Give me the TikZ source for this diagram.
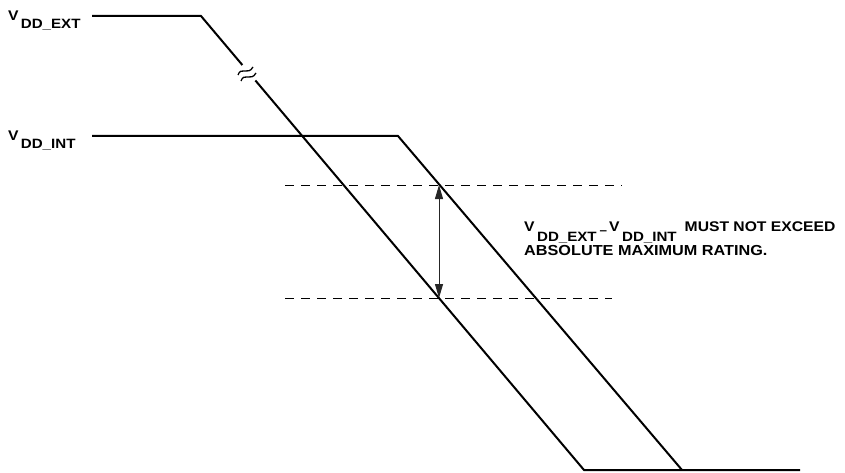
\documentclass[tikz,border=0pt]{standalone}
\usepackage{fontspec}
\setmainfont{Liberation Sans}[FakeStretch=1.12]
\usetikzlibrary{positioning, arrows.meta, calc}
\newcommand{\vdd}[2][8pt]{{\fontsize{14}{14}\selectfont V}\,\raisebox{-#1}{\fontsize{13.5}{14}\selectfont DD\_#2}}

\begin{document}
\begin{tikzpicture}[x=1pt, y=-1pt,
  rail/.style={line width=2pt, line join=miter},
  guide/.style={line width=0.9pt, dash pattern=on 9pt off 7pt},
  lbl/.style={font=\bfseries\fontsize{13.5}{15}\selectfont, inner sep=0pt, anchor=base west},
  note/.style={font=\bfseries\fontsize{14.5}{17}\selectfont, inner sep=0pt, anchor=base west},
  span/.style={{Triangle[length=14pt,width=8pt]}-{Triangle[length=14pt,width=8pt]}, line width=1pt, draw=black!85},
]
  \useasboundingbox (0,0) rectangle (845,473);

  % corner points of the two rails
  \coordinate (extL) at (92,16);
  \coordinate (extK) at (201,16);
  \coordinate (extB) at (584,470);
  \coordinate (intL) at (92,136);
  \coordinate (intK) at (398,136);
  \coordinate (intB) at (682,470);
  \coordinate (endR) at (800,470);

  % dashed guide lines
  \coordinate (topL) at (285,185);
  \coordinate (topR) at (622,185);
  \coordinate (botL) at (285,298);
  \coordinate (botR) at (612,298);
  \draw[guide] (topL) -- (topR);
  \draw[guide] (botL) -- (botR);

  % rails
  \draw[rail] (extL) -- (extK) -- ($(extK)!0.108!(extB)$);
  \draw[rail] ($(extK)!0.142!(extB)$) -- (extB) -- (endR);
  \draw[rail] (intL) -- (intK) -- (intB);

  % break mark
  \draw[line width=1.3pt] (238,75) .. controls (241,66) and (248,76) .. (253,67);
  \draw[line width=1.3pt] (241,81) .. controls (244,72) and (251,82) .. (256,73);

  % difference arrow
  \coordinate (spanT) at (439,185);
  \coordinate (spanB) at (439,298);
  \draw[span] (spanT) -- (spanB);

  % labels
  \node[lbl] (extlbl) at (8,21) {\vdd{EXT}};
  \node[lbl] (intlbl) at (8,141) {\vdd{INT}};
  \node[note] (note1) at (524,231) {\vdd[10pt]{EXT}\hspace{3pt}\raisebox{-3pt}{\fontsize{12}{12}\selectfont --}\hspace{2pt}\vdd[10pt]{INT}\hspace{8pt}{\fontsize{14}{17}\selectfont MUST NOT EXCEED}};
  \node[note] (note2) at (524,255) {ABSOLUTE MAXIMUM RATING.};
\end{tikzpicture}
\end{document}
